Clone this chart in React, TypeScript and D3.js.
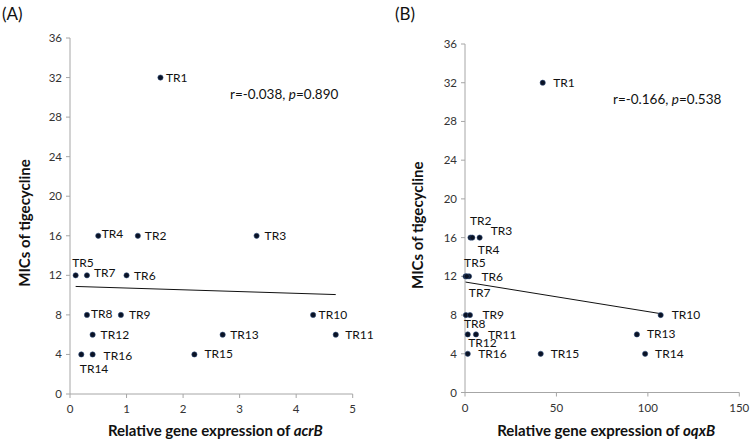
import React from "react";
import * as d3 from "d3";

// ---- data ----
const strains = ["TR1","TR2","TR3","TR4","TR5","TR6","TR7","TR8","TR9","TR10","TR11","TR12","TR13","TR14","TR15","TR16"];
const mic = [32,16,16,16,12,12,12,8,8,8,6,6,6,4,4,4];
const acrB = [1.6,1.2,3.3,0.5,0.1,1.0,0.3,0.3,0.9,4.3,4.7,0.4,2.7,0.2,2.2,0.4];
const oqxB = [42.5,3,8,4,0.3,2.2,1,0.5,2.7,107,6,1.5,94,98.5,41.4,1.5];
const yTicks = [0,4,8,12,16,20,24,28,32,36];
const xTicksA = [0,1,2,3,4,5];
const xTicksB = [0,50,100,150];
const statA = { r: "-0.038", p: "0.890" };
const statB = { r: "-0.166", p: "0.538" };

// ---- label placement (layout, offsets in px from dot) ----
const labelPosA: [number, number][] = [
  [5.5,4],[7,4],[8,4],[3.5,2.5],[-3.5,-8.5],[7.5,5],[7,2],[4,3],
  [8,4.5],[5.5,4.5],[9.5,4],[8,4],[7.5,4],[-1.5,18.5],[10,4],[11,5.5],
];
const labelPosB: [number, number][] = [
  [10.5,4],[-0.5,-12.5],[11,-2.5],[5.5,16],[-1.5,-9],[12.5,4.5],[2,21],[-2,13],
  [12.5,4],[11,4],[12,4.5],[0.5,12.5],[10,4],[10,4],[10,4],[10.5,4],
];

const FONT = "Lato, 'Open Sans', sans-serif";

function regression(xs: number[], ys: number[]) {
  const mx = d3.mean(xs)!;
  const my = d3.mean(ys)!;
  let sxy = 0, sxx = 0;
  xs.forEach((x, i) => { sxy += (x - mx) * (ys[i] - my); sxx += (x - mx) ** 2; });
  const b = sxy / sxx;
  return { a: my - b * mx, b };
}

type PanelProps = {
  tag: string;
  xs: number[];
  xTicks: number[];
  xMax: number;
  left: number; right: number; top: number; bottom: number;
  gene: string;
  stat: { r: string; p: string };
  statX: number; statY: number;
  yTitleX: number;
  tagX: number;
  labelPos: [number, number][];
};

function Panel(p: PanelProps) {
  const x = d3.scaleLinear().domain([0, p.xMax]).range([p.left, p.right]);
  const y = d3.scaleLinear().domain([0, 36]).range([p.bottom, p.top]);
  const { a, b } = regression(p.xs, mic);
  const [x0, x1] = d3.extent(p.xs) as [number, number];
  const line = d3.line<number>().x(v => x(v)).y(v => y(a + b * v));
  const axisColor = "#a6a6a6";
  return (
    <g>
      <text x={p.tagX} y={20} fontSize={17} fontFamily={FONT} fill="#111">{p.tag}</text>
      {/* y axis */}
      <line x1={p.left} x2={p.left} y1={p.top} y2={p.bottom} stroke={axisColor} />
      {yTicks.map(t => (
        <g key={t}>
          <line x1={p.left - 4} x2={p.left} y1={y(t)} y2={y(t)} stroke={axisColor} />
          <text x={p.left - 8} y={y(t)} dy="0.35em" textAnchor="end" fontSize={11.5} fontFamily={FONT} fill="#333">{t}</text>
        </g>
      ))}
      {/* x axis */}
      <line x1={p.left} x2={p.right} y1={p.bottom} y2={p.bottom} stroke={axisColor} />
      {p.xTicks.map(t => (
        <g key={t}>
          <line x1={x(t)} x2={x(t)} y1={p.bottom} y2={p.bottom + 4} stroke={axisColor} />
          <text x={x(t)} y={p.bottom + 19} textAnchor="middle" fontSize={11.5} fontFamily={FONT} fill="#333">{t}</text>
        </g>
      ))}
      {/* titles */}
      <text transform={`translate(${p.yTitleX},${(p.top + p.bottom) / 2 + 7}) rotate(-90)`} textAnchor="middle"
        fontSize={15} fontWeight="bold" fontFamily={FONT} fill="#111">MICs of tigecycline</text>
      <text x={(p.left + p.right) / 2 + 4} y={436} textAnchor="middle" fontSize={15} fontWeight="bold" fontFamily={FONT} fill="#111">
        Relative gene expression of <tspan fontStyle="italic">{p.gene}</tspan>
      </text>
      {/* trend line */}
      <path d={line([x0, x1])!} stroke="#111" strokeWidth={1} fill="none" />
      {/* points */}
      {p.xs.map((v, i) => (
        <circle key={strains[i]} cx={x(v)} cy={y(mic[i])} r={2.6} fill="#0a1224" stroke="#2c4a78" strokeWidth={0.6} />
      ))}
      {p.xs.map((v, i) => (
        <text key={"l" + strains[i]} x={x(v) + p.labelPos[i][0]} y={y(mic[i]) + p.labelPos[i][1]}
          fontSize={12} fontFamily={FONT} fill="#111">{strains[i]}</text>
      ))}
      {/* stat */}
      <text x={p.statX} y={p.statY} fontSize={13.5} fontFamily={FONT} fill="#111">
        r={p.stat.r}, <tspan fontStyle="italic">p</tspan>={p.stat.p}
      </text>
    </g>
  );
}

export default function App() {
  return (
    <svg width={750} height={441} style={{ position: "absolute", left: 0, top: 0, background: "#fff" }}>
      <rect width={750} height={441} fill="#fff" />
      <Panel tag="(A)" tagX={2} xs={acrB} xTicks={xTicksA} xMax={5}
        left={70} right={352.7} top={38} bottom={394}
        gene="acrB" stat={statA} statX={230} statY={99} yTitleX={30} labelPos={labelPosA} />
      <Panel tag="(B)" tagX={395} xs={oqxB} xTicks={xTicksB} xMax={150}
        left={465} right={739.3} top={44} bottom={392.5}
        gene="oqxB" stat={statB} statX={613} statY={104} yTitleX={423} labelPos={labelPosB} />
    </svg>
  );
}
